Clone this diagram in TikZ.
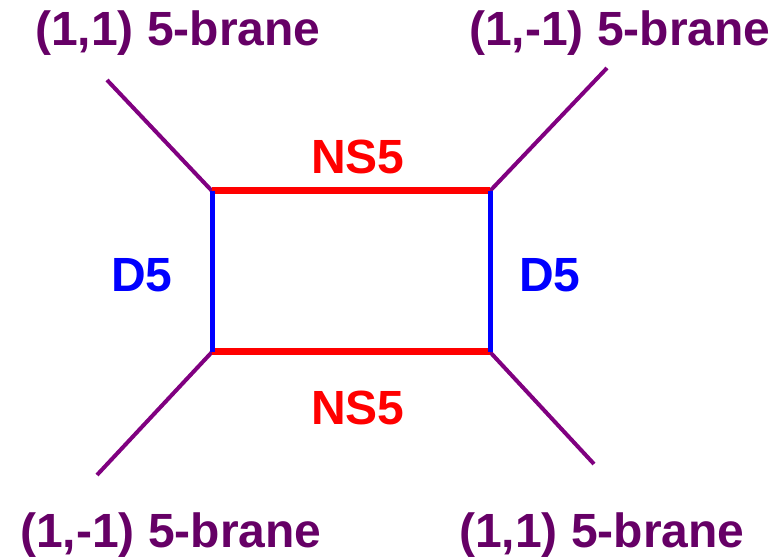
\documentclass[tikz,border=0pt]{standalone}
\usepackage{fontspec}
\setmainfont{Liberation Sans}
\usepackage{tikz}
\usetikzlibrary{positioning}

\definecolor{pqtext}{RGB}{102,0,102}
\definecolor{pqline}{RGB}{128,0,128}

\begin{document}
\begin{tikzpicture}[x=0.5pt,y=-0.5pt,
    pq/.style={draw=pqline,line width=2pt},
    ns/.style={draw=red,line width=3.5pt},
    dfive/.style={draw=blue,line width=2.5pt},
    lbl/.style={font=\fontsize{24}{29}\selectfont\bfseries,inner sep=0pt}]
\useasboundingbox (0,0) rectangle (778,560);
% corners of the box
\coordinate (tl) at (212,191);
\coordinate (tr) at (490,191);
\coordinate (bl) at (212,352);
\coordinate (br) at (490,352);
% outer ends of the (p,q) legs
\coordinate (ltl) at (107,80);
\coordinate (ltr) at (607,68);
\coordinate (lbl) at (97,475);
\coordinate (lbr) at (594,464);
\draw[pq] (ltl) -- (tl);
\draw[pq] (ltr) -- (tr);
\draw[pq] (lbl) -- (bl);
\draw[pq] (lbr) -- (br);
\draw[ns] (tl) -- (tr);
\draw[ns] (bl) -- (br);
\draw[dfive] (tl) -- (bl);
\draw[dfive] (tr) -- (br);
\node[lbl,text=red] (nstop) at (358,157) {NS5};
\node[lbl,text=red] (nsbot) at (358,408) {NS5};
\node[lbl,text=blue] (dleft) at (142,275) {D5};
\node[lbl,text=blue] (dright) at (550,275) {D5};
\node[lbl,text=pqtext] (pqtl) at (178,33) {(1,1) 5-brane};
\node[lbl,text=pqtext] (pqtr) at (620,33) {(1,-1) 5-brane};
\node[lbl,text=pqtext] (pqbl) at (171,535) {(1,-1) 5-brane};
\node[lbl,text=pqtext] (pqbr) at (602,535) {(1,1) 5-brane};
\end{tikzpicture}
\end{document}
